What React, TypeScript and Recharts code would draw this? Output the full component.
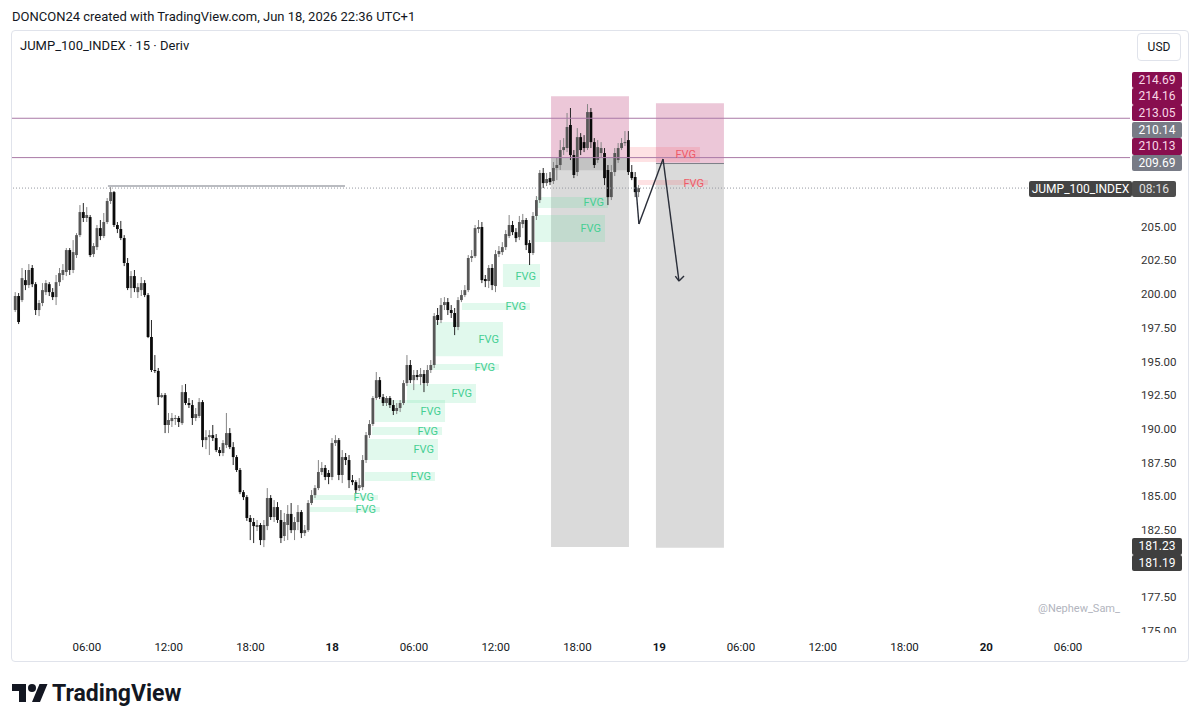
import React from 'react';
import { ComposedChart, Bar, XAxis, YAxis, ReferenceArea, ReferenceLine } from 'recharts';

// ---------- DATA ----------
// 15-minute candles, [open, high, low, close]; first candle at 00:45 on the 17th
const candleOHLC: [number, number, number, number][] = [
  [198.82,200.15,198.67,199.86],[199.86,200.08,197.78,197.93],[199.56,201.94,199.41,201.19],[201.04,201.79,200.30,200.67],
  [200.67,202.23,200.45,201.79],[201.94,202.16,200.52,200.74],[200.74,200.89,198.45,198.82],[198.82,199.56,198.37,199.34],
  [199.34,200.82,199.11,200.30],[200.15,201.04,199.93,200.82],[200.74,200.89,199.86,200.15],[200.15,200.45,199.56,199.78],
  [199.78,201.42,199.19,200.89],[200.89,201.94,200.60,201.56],[201.42,202.23,201.04,201.79],[201.64,203.42,201.34,203.27],
  [203.27,203.42,201.42,201.79],[201.79,204.01,201.56,203.12],[202.90,204.53,202.68,204.38],[204.38,206.61,204.23,206.09],
  [206.09,206.76,205.35,205.65],[205.65,206.46,205.35,205.87],[205.72,205.87,202.75,202.90],[202.97,203.79,202.75,203.57],
  [203.49,205.13,203.27,204.90],[204.90,205.50,204.01,204.31],[204.31,206.02,204.16,205.35],[205.35,207.13,205.20,206.91],
  [206.91,207.94,206.69,207.57],[207.57,207.65,204.98,205.13],[205.13,205.35,204.53,204.83],[204.83,205.43,204.01,204.16],
  [204.16,204.38,202.08,202.31],[202.31,202.68,200.30,200.45],[200.45,201.71,199.71,201.34],[201.34,201.79,200.15,200.45],
  [200.15,200.82,199.71,200.52],[200.30,201.27,199.86,200.82],[200.82,201.04,199.78,199.93],[199.93,200.08,196.74,196.82],
  [196.82,198.08,194.22,194.37],[194.37,195.48,194.15,194.30],[194.30,194.52,191.77,192.36],[192.36,192.66,192.29,192.51],
  [192.51,192.66,189.69,190.29],[190.29,191.18,189.69,190.66],[190.58,191.18,190.14,190.81],[190.74,191.03,190.29,190.81],
  [190.81,190.96,190.14,190.51],[190.43,193.25,190.29,192.73],[192.73,193.33,191.77,191.92],[191.92,192.29,191.55,191.77],
  [191.77,192.14,190.29,190.81],[190.81,191.55,190.58,191.10],[190.96,192.29,190.81,191.99],[191.99,192.14,188.65,189.17],
  [189.17,189.91,188.50,189.39],[189.39,189.91,188.06,189.54],[189.54,190.29,189.10,189.32],[189.32,189.62,188.28,188.43],
  [188.43,188.65,187.98,188.21],[188.21,189.17,187.98,188.95],[188.80,191.18,188.58,189.69],[189.69,190.06,188.50,188.65],
  [188.65,189.02,187.32,187.91],[187.91,188.06,186.80,186.95],[186.95,187.10,185.16,185.31],[185.31,185.46,184.72,184.94],
  [184.94,185.09,183.17,183.39],[183.39,183.61,181.75,183.09],[183.09,183.39,181.53,182.79],[182.72,183.24,182.42,182.87],
  [182.87,183.02,181.38,181.75],[181.75,183.24,181.23,182.87],[182.79,185.61,182.49,184.87],[184.87,185.09,183.24,183.46],
  [183.46,184.72,183.09,184.20],[184.20,184.57,183.02,183.24],[183.24,183.98,181.53,181.90],[182.05,183.76,181.68,183.09],
  [182.87,184.35,181.75,183.69],[183.69,184.50,182.27,182.49],[182.49,183.46,181.75,183.09],[183.09,184.35,182.49,183.83],
  [183.83,183.98,181.90,182.27],[182.27,182.87,182.05,182.49],[182.49,184.72,182.35,184.50],[184.50,185.46,184.35,185.09],
  [185.09,185.83,184.87,185.61],[185.61,187.69,185.46,186.80],[186.80,187.54,186.58,187.10],[187.10,187.32,186.20,186.43],
  [186.73,186.95,185.90,186.43],[186.43,189.32,186.20,188.95],[188.95,189.54,188.73,189.17],[189.17,189.32,186.20,186.58],
  [186.58,188.43,185.98,187.91],[187.91,188.21,187.32,187.69],[187.69,188.06,185.61,186.20],[186.20,186.58,185.83,186.05],
  [186.05,186.20,185.16,185.46],[185.61,186.35,185.39,185.83],[185.68,188.06,185.46,187.69],[187.69,189.77,187.47,189.54],
  [189.54,190.66,189.32,190.36],[190.36,192.44,190.21,192.29],[192.29,194.22,192.14,193.62],[193.62,193.85,192.21,192.36],
  [192.36,192.59,191.70,191.92],[191.92,192.44,191.70,192.29],[192.29,192.44,191.55,191.77],[191.77,192.14,191.03,191.33],
  [191.33,191.92,191.10,191.55],[191.55,192.14,191.25,191.92],[191.92,193.62,191.77,193.40],[193.40,195.48,193.18,194.74],
  [194.74,195.11,193.40,193.62],[193.62,194.37,192.88,194.00],[194.00,194.37,193.62,193.85],[193.85,194.52,193.25,194.07],
  [194.07,194.37,192.73,193.40],[193.40,194.74,193.18,194.37],[194.37,195.11,194.15,194.74],[194.74,198.60,194.52,198.37],
  [198.45,198.97,197.71,198.08],[198.08,199.71,197.85,199.19],[199.19,199.78,198.82,199.41],[199.41,199.71,198.45,198.82],
  [198.82,199.19,198.23,198.60],[198.60,198.97,196.96,197.56],[197.56,199.78,197.33,199.56],[199.56,200.30,199.41,199.93],
  [199.93,200.67,199.78,200.30],[200.30,202.90,200.15,202.68],[202.68,203.27,202.38,202.82],[202.82,205.13,202.68,204.90],
  [204.83,205.50,204.53,204.98],[204.98,205.35,200.82,201.04],[201.12,201.42,200.52,200.97],[200.97,202.16,200.45,201.94],
  [201.94,202.23,200.30,200.67],[200.60,203.27,200.15,202.97],[202.97,203.57,202.75,203.20],[203.12,203.86,202.90,203.49],
  [203.49,204.75,203.27,204.46],[204.31,205.87,204.16,205.13],[205.13,205.43,204.38,204.60],[204.60,204.90,203.86,204.16],
  [204.23,205.80,204.01,205.35],[205.20,205.95,204.90,205.50],[205.50,205.65,203.27,203.64],[203.79,204.01,202.16,203.05],
  [203.05,206.09,202.90,205.80],[205.80,207.28,205.50,206.98],[206.98,209.21,206.76,208.99],[208.99,209.36,207.87,208.24],
  [208.24,208.99,208.02,208.54],[208.61,209.06,208.09,208.31],[208.39,209.80,208.17,209.36],[209.36,210.10,208.46,209.58],
  [209.58,211.43,209.21,210.69],[210.69,211.58,210.32,210.91],[210.84,213.44,210.54,212.40],[212.55,213.81,209.95,210.32],
  [210.32,210.69,208.61,208.84],[209.06,212.32,208.76,211.65],[211.65,211.95,210.32,210.69],[211.28,211.80,210.54,210.84],
  [210.84,214.10,210.69,213.51],[213.51,213.81,210.84,211.28],[211.28,211.58,209.36,209.58],[209.95,211.43,209.73,210.91],
  [210.47,211.28,210.17,210.84],[210.47,210.84,208.09,208.61],[209.21,209.58,206.61,207.20],[207.20,209.58,206.98,209.06],
  [209.06,210.84,208.76,210.47],[209.95,211.21,209.73,210.84],[210.84,211.58,210.69,211.21],[211.21,212.10,210.99,211.28],
  [211.43,212.10,208.84,209.06],[209.06,209.58,208.46,208.61],[208.69,209.06,207.20,207.57],[207.57,208.09,207.20,207.87],
];
const firstCandleHour = 0.75; // hours since 00:00 on the 17th
const candleStepHours = 0.25;

const timeTicks = [6, 12, 18, 24, 30, 36, 42, 48, 54, 60, 66, 72, 78];
const timeTickLabels = ['06:00', '12:00', '18:00', '18', '06:00', '12:00', '18:00', '19', '06:00', '12:00', '18:00', '20', '06:00'];
const priceTicks = [175, 177.5, 180, 182.5, 185, 187.5, 190, 192.5, 195, 197.5, 200, 202.5, 205];

// Fair value gaps [startHour, endHour, top, bottom]
const greenFvgs: [number, number, number, number][] = [
  [39.03, 44.24, 207.20, 206.39],
  [38.88, 44.02, 205.87, 203.86],
  [36.53, 39.25, 202.23, 200.52],
  [33.52, 38.51, 199.34, 198.82],
  [31.54, 36.53, 197.93, 195.40],
  [31.32, 36.24, 194.81, 194.37],
  [29.49, 34.55, 193.33, 191.92],
  [27.14, 32.28, 192.14, 190.51],
  [26.92, 32.06, 190.14, 189.54],
  [26.62, 31.76, 189.25, 187.69],
  [26.40, 31.54, 186.80, 186.13],
  [22.37, 27.36, 185.09, 184.72],
  [22.37, 27.50, 184.20, 183.83],
];
const redFvgs: [number, number, number, number][] = [
  [45.85, 50.99, 210.91, 209.80],
  [46.44, 51.58, 208.46, 208.09],
];

// Short position tools [startHour, endHour, stop, entry, target]
const positions: [number, number, number, number, number][] = [
  [40.06, 45.78, 214.69, 210.14, 181.23],
  [47.76, 52.75, 214.16, 209.69, 181.19],
];
const entryShadeBottom = 209.2;

const levelLines = [213.05, 210.13];
const currentPrice = 207.87;
const priorHigh = { from: 7.54, to: 24.94, price: 208.02 };
const projection = [
  { x: 46.29, y: 207.94 },
  { x: 46.51, y: 205.20 },
  { x: 48.28, y: 210.02 },
  { x: 49.45, y: 200.97 },
];
const arrowWings = [
  { x: 49.18, y: 201.34 },
  { x: 49.82, y: 201.34 },
];

const upperScaleLabels = [
  { text: '214.69', kind: 'pink' },
  { text: '214.16', kind: 'pink' },
  { text: '213.05', kind: 'pink' },
  { text: '210.14', kind: 'grey' },
  { text: '210.13', kind: 'pink' },
  { text: '209.69', kind: 'grey' },
];
const lowerScaleLabels = ['181.23', '181.19'];

const candles = candleOHLC.map(([open, high, low, close], i) => ({
  t: firstCandleHour + i * candleStepHours,
  open, high, low, close,
  range: [low, high],
}));

// ---------- RENDER ----------
const FONT = 'Roboto, "Noto Sans", Arial, sans-serif';
const TEXT = '#131722';

const Candle = (props: any) => {
  const { x, y, width, height, payload } = props;
  if (!payload || x == null || y == null) return null;
  const { open, high, low, close } = payload;
  const top = Math.min(y, y + height);
  const h = Math.abs(height);
  const k = h / (high - low || 1);
  const cx = x + width / 2;
  const up = close >= open;
  const bTop = top + (high - Math.max(open, close)) * k;
  const bBot = top + (high - Math.min(open, close)) * k;
  return (
    <g>
      <line x1={cx} x2={cx} y1={top} y2={top + h} stroke={up ? '#858585' : '#262626'} strokeWidth={1} />
      <rect x={cx - 1.4} y={bTop} width={2.8} height={Math.max(1, bBot - bTop)} fill={up ? '#575757' : '#0a0a0a'} />
    </g>
  );
};

const TimeTick = (props: any) => {
  const { x, y, payload } = props;
  const idx = timeTicks.indexOf(payload.value);
  const label = idx >= 0 ? timeTickLabels[idx] : '';
  const bold = label.length <= 2;
  return (
    <text x={x} y={y} dy="0.71em" textAnchor="middle" fontFamily={FONT} fontSize={11.5}
      fontWeight={bold ? 700 : 400} fill={TEXT}>{label}</text>
  );
};

const PriceTick = (props: any) => {
  const { x, y, payload } = props;
  return (
    <text x={x} y={y} dy="0.35em" textAnchor="start" fontFamily={FONT} fontSize={11.5} fill="#333">
      {Number(payload.value).toFixed(2)}
    </text>
  );
};

const greenFill = 'rgba(76, 217, 150, 0.17)';
const greenText = '#45cf93';
const redFill = 'rgba(247, 82, 95, 0.17)';
const redText = '#ef5a68';
const greyFill = 'rgba(128, 128, 128, 0.29)';

const labelBox = (top: number, bg: string, color: string, text: string, key: string) => (
  <div key={key} style={{
    position: 'absolute', left: 1132, top, width: 50, height: 16.6, background: bg, color,
    fontFamily: FONT, fontSize: 12, lineHeight: '16.6px', textAlign: 'center', borderRadius: 2,
  }}>{text}</div>
);

export default function App() {
  return (
    <div style={{ position: 'absolute', left: 0, top: 0, width: 1199, height: 726, background: '#fff', overflow: 'hidden' }}>
      <div style={{ position: 'absolute', left: 12, top: 8, fontFamily: FONT, fontSize: 13, color: TEXT, lineHeight: '18px' }}>
        DONCON24 created with TradingView.com, Jun 18, 2026 22:36 UTC+1
      </div>
      <div style={{ position: 'absolute', left: 11, top: 30, width: 1176, height: 630, border: '1px solid #e0e3eb', borderRadius: 4 }} />
      <div style={{ position: 'absolute', left: 20, top: 37, fontFamily: FONT, fontSize: 13, color: TEXT, lineHeight: '18px' }}>
        JUMP_100_INDEX · 15 · Deriv
      </div>
      <div style={{ position: 'absolute', left: 1137, top: 33, width: 42, height: 26, border: '1px solid #e0e3eb', borderRadius: 4,
        fontFamily: FONT, fontSize: 12, color: TEXT, lineHeight: '26px', textAlign: 'center' }}>USD</div>

      <div style={{ position: 'absolute', left: 0, top: 0 }}>
        <ComposedChart width={1199} height={726} data={candles} margin={{ top: 63, right: 11, bottom: 64, left: 12 }}>
          <XAxis dataKey="t" type="number" domain={[0.5, 82.55]} allowDataOverflow ticks={timeTicks}
            axisLine={false} tickLine={false} tickMargin={5} height={30} tick={<TimeTick />} interval={0} />
          <YAxis type="number" orientation="right" domain={[174.93, 217.15]} allowDataOverflow ticks={priceTicks}
            axisLine={false} tickLine={false} tickMargin={5} width={58} tick={<PriceTick />} interval={0} />

          {positions.map(([x1, x2, stop, entry], i) => (
            <ReferenceArea key={'pp' + i} x1={x1} x2={x2} y1={entry} y2={stop} fill="rgba(180, 30, 100, 0.25)" fillOpacity={1} stroke="none" />
          ))}
          {positions.map(([x1, x2, , entry, target], i) => (
            <ReferenceArea key={'pg' + i} x1={x1} x2={x2} y1={target} y2={entry} fill={greyFill} fillOpacity={1} stroke="none" />
          ))}
          <ReferenceArea x1={positions[0][0]} x2={positions[0][1]} y1={entryShadeBottom} y2={positions[0][3]}
            fill="rgba(128, 128, 128, 0.25)" fillOpacity={1} stroke="none" />

          {greenFvgs.map(([x1, x2, top, bottom], i) => (
            <ReferenceArea key={'g' + i} x1={x1} x2={x2} y1={bottom} y2={top} fill={greenFill} fillOpacity={1} stroke="none"
              label={{ value: 'FVG', position: 'insideRight', offset: 4, fill: greenText, fontSize: 11, fontFamily: FONT }} />
          ))}
          {redFvgs.map(([x1, x2, top, bottom], i) => (
            <ReferenceArea key={'r' + i} x1={x1} x2={x2} y1={bottom} y2={top} fill={redFill} fillOpacity={1} stroke="none"
              label={{ value: 'FVG', position: 'insideRight', offset: 4, fill: redText, fontSize: 11, fontFamily: FONT }} />
          ))}

          {levelLines.map((p, i) => (
            <ReferenceLine key={'l' + i} y={p} stroke="#a97aa6" strokeWidth={1} />
          ))}
          <ReferenceLine y={currentPrice} stroke="#9598a1" strokeWidth={1} strokeDasharray="1 2" />
          <ReferenceLine segment={[{ x: priorHigh.from, y: priorHigh.price }, { x: priorHigh.to, y: priorHigh.price }]}
            stroke="#a3a6ad" strokeWidth={1.5} />
          <ReferenceLine segment={[{ x: positions[1][0], y: positions[1][3] }, { x: positions[1][1], y: positions[1][3] }]}
            stroke="#7b7e87" strokeWidth={1} />

          <Bar dataKey="range" barSize={3} shape={<Candle />} isAnimationActive={false} />

          {projection.slice(0, -1).map((p, i) => (
            <ReferenceLine key={'z' + i} segment={[p, projection[i + 1]]} stroke="#2a2e39" strokeWidth={1.4} />
          ))}
          {arrowWings.map((w, i) => (
            <ReferenceLine key={'a' + i} segment={[w, projection[projection.length - 1]]} stroke="#2a2e39" strokeWidth={1.4} />
          ))}
        </ComposedChart>
      </div>

      <div style={{ position: 'absolute', left: 1131, top: 633, width: 56, height: 10, background: '#fff' }} />

      {upperScaleLabels.map((l, i) =>
        labelBox(71.7 + i * 16.6, l.kind === 'pink' ? '#880e4f' : '#787b86', l.kind === 'pink' ? '#f8d7e6' : '#ffffff', l.text, 'u' + i))}
      {lowerScaleLabels.map((t, i) => labelBox(538.3 + i * 16.6, '#3f3f3f', '#ffffff', t, 'd' + i))}

      <div style={{ position: 'absolute', left: 1029, top: 180.5, width: 103, height: 16, background: '#434343', color: '#fff',
        fontFamily: FONT, fontSize: 12, lineHeight: '16px', textAlign: 'center', borderRadius: 2 }}>JUMP_100_INDEX</div>
      <div style={{ position: 'absolute', left: 1132, top: 180.5, width: 44, height: 16, background: '#4d4d4d', color: '#e0e0e0',
        fontFamily: FONT, fontSize: 12, lineHeight: '16px', textAlign: 'center', borderRadius: 2 }}>08:16</div>

      <div style={{ position: 'absolute', left: 1038, top: 602, fontFamily: FONT, fontSize: 11, color: '#b2b5be' }}>@Nephew_Sam_</div>

      <svg style={{ position: 'absolute', left: 12, top: 680 }} width={36} height={28} viewBox="0 0 36 28">
        <path d="M14 22H7V11H0V4h14v18zM28 22h-8l7.5-18h8L28 22z" fill="#131722" />
        <circle cx={20} cy={8} r={4} fill="#131722" />
      </svg>
      <div style={{ position: 'absolute', left: 52, top: 679, fontFamily: FONT, fontSize: 23, fontWeight: 700, color: '#131722', lineHeight: '30px' }}>
        TradingView
      </div>
    </div>
  );
}
